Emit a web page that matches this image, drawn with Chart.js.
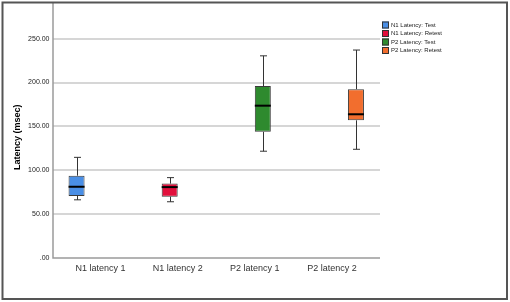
<!DOCTYPE html>
<html>
<head>
<meta charset="utf-8">
<script src="https://cdn.jsdelivr.net/npm/chart.js@4/dist/chart.umd.min.js"></script>
<style>
  html, body { margin: 0; padding: 0; background: #fff; }
  #wrap { width: 510px; height: 302px; }
</style>
</head>
<body>
<div id="wrap"><canvas id="chart" width="510" height="302"></canvas></div>
<script>
// categories on the x axis and one series per box
const categories = ['N1 latency 1', 'N1 latency 2', 'P2 latency 1', 'P2 latency 2'];
const seriesLabels = ['N1 Latency: Test', 'N1 Latency: Retest', 'P2 Latency: Test', 'P2 Latency: Retest'];
const seriesColors = ['#4a8fe6', '#e2103c', '#2e8a2e', '#f26e2e'];

// box plot values (msec), one per series
const mins    = [66.3, 64.1, 121.7, 123.9];
const q1s     = [70.7, 69.9, 143.8, 156.9];
const medians = [81.2, 80.8, 173.6, 163.8];
const q3s     = [93.8, 84.8, 196.0, 192.4];
const maxs    = [114.7, 91.6, 230.4, 237.0];

const yTicks = [0, 50, 100, 150, 200, 250];

const FONT = "'Liberation Sans', Arial, sans-serif";

const datasets = seriesLabels.map((label, i) => ({
  label: label,
  data: categories.map((c, j) => (j === i ? [q1s[i], q3s[i]] : null)),
  backgroundColor: seriesColors[i],
  borderColor: '#3a3a3a',
  borderWidth: 1,
  borderSkipped: false,
  categoryPercentage: 0.83,
  barPercentage: 1.0
}));

// gridlines, axes, whiskers, medians, legend and frame
const boxExtras = {
  id: 'boxExtras',
  beforeDatasetsDraw(chart) {
    const { ctx, chartArea: a, scales: { y } } = chart;
    const l = a.left - 9, r = a.right + 9.5;
    ctx.save();
    ctx.strokeStyle = '#d6d6d6';
    ctx.lineWidth = 2;
    yTicks.forEach(v => {
      if (v === 0) return;
      const py = Math.round(y.getPixelForValue(v));
      ctx.beginPath();
      ctx.moveTo(l, py);
      ctx.lineTo(r, py);
      ctx.stroke();
    });
    ctx.strokeStyle = '#9a9a9a';
    ctx.lineWidth = 1.5;
    const by = y.getPixelForValue(0);
    ctx.beginPath();
    ctx.moveTo(l, 3);
    ctx.lineTo(l, by);
    ctx.lineTo(r, by);
    ctx.stroke();
    ctx.restore();
  },
  afterDatasetsDraw(chart) {
    const { ctx, scales: { y } } = chart;
    ctx.save();
    chart.data.datasets.forEach((ds, i) => {
      const bar = chart.getDatasetMeta(i).data[i];
      const cx = Math.round(bar.x) + 0.5;
      const w = bar.width;
      const pMin = y.getPixelForValue(mins[i]);
      const pMax = y.getPixelForValue(maxs[i]);
      const pQ1 = y.getPixelForValue(q1s[i]);
      const pQ3 = y.getPixelForValue(q3s[i]);
      const pMed = y.getPixelForValue(medians[i]);
      ctx.strokeStyle = '#333';
      ctx.lineWidth = 1;
      ctx.beginPath();
      ctx.moveTo(cx, pQ3); ctx.lineTo(cx, pMax);
      ctx.moveTo(cx, pQ1); ctx.lineTo(cx, pMin);
      ctx.moveTo(cx - 3.5, pMax); ctx.lineTo(cx + 3.5, pMax);
      ctx.moveTo(cx - 3.5, pMin); ctx.lineTo(cx + 3.5, pMin);
      ctx.stroke();
      ctx.strokeStyle = '#000';
      ctx.lineWidth = 2;
      ctx.beginPath();
      ctx.moveTo(bar.x - w / 2, pMed);
      ctx.lineTo(bar.x + w / 2, pMed);
      ctx.stroke();
    });

    // legend
    const lx = chart.chartArea.right + 11.5;
    const rowTop = [21.5, 30, 38.5, 47];
    ctx.font = '6px ' + FONT;
    ctx.textBaseline = 'middle';
    ctx.textAlign = 'left';
    chart.data.datasets.forEach((ds, i) => {
      ctx.fillStyle = ds.backgroundColor;
      ctx.fillRect(lx, rowTop[i], 7, 7);
      ctx.strokeStyle = '#333';
      ctx.lineWidth = 1;
      ctx.strokeRect(lx + 0.5, rowTop[i] + 0.5, 6, 6);
      ctx.fillStyle = '#222';
      ctx.fillText(ds.label, lx + 9, rowTop[i] + 3.8);
    });
    ctx.restore();
  },
  afterDraw(chart) {
    const { ctx } = chart;
    ctx.save();
    ctx.strokeStyle = '#555';
    ctx.lineWidth = 2;
    ctx.strokeRect(2.5, 2.5, 504.5, 296.5);
    ctx.restore();
  }
};

new Chart(document.getElementById('chart'), {
  type: 'bar',
  data: { labels: categories, datasets: datasets },
  options: {
    responsive: false,
    animation: false,
    layout: { padding: { top: 5, right: 139.5, bottom: 0, left: 0 } },
    plugins: {
      legend: { display: false },
      tooltip: { enabled: false }
    },
    scales: {
      x: {
        grid: { display: false, drawTicks: false },
        border: { display: false },
        ticks: { color: '#333', font: { size: 9, family: FONT }, padding: 5, maxRotation: 0 },
        afterFit: (scale) => { scale.height = 44; }
      },
      y: {
        min: 0,
        max: 275,
        grid: { display: false, drawTicks: false },
        border: { display: false },
        afterBuildTicks: (scale) => { scale.ticks = yTicks.map(v => ({ value: v })); },
        ticks: {
          color: '#222',
          font: { size: 7, family: FONT },
          padding: 12.5,
          callback: (v) => (v === 0 ? '.00' : v.toFixed(2))
        },
        title: {
          display: true,
          text: 'Latency (msec)',
          color: '#000',
          font: { size: 9, weight: 'bold', family: FONT },
          padding: { top: 12.6, bottom: 0 }
        },
        afterFit: (scale) => { scale.width = 62; }
      }
    }
  },
  plugins: [boxExtras]
});
</script>
</body>
</html>
